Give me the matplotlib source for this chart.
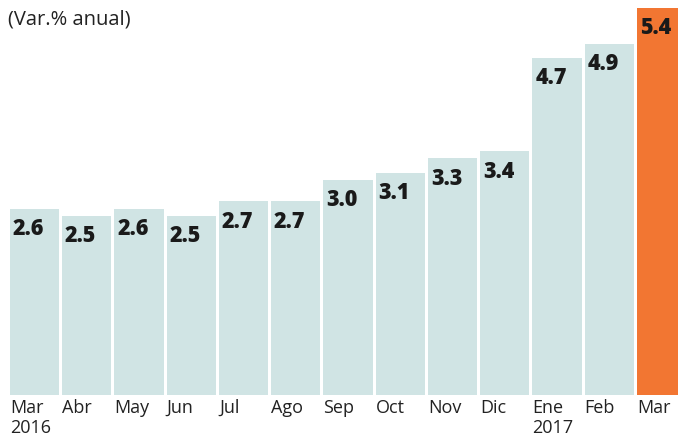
import numpy as np
import matplotlib.pyplot as plt

plt.rcParams['font.family'] = ['Open Sans', 'DejaVu Sans']

# datos
meses = ['Mar\n2016', 'Abr', 'May', 'Jun', 'Jul', 'Ago', 'Sep', 'Oct',
         'Nov', 'Dic', 'Ene\n2017', 'Feb', 'Mar']
valores = [2.6, 2.5, 2.6, 2.5, 2.7, 2.7, 3.0, 3.1, 3.3, 3.4, 4.7, 4.9, 5.4]
etiquetas = ['2.6', '2.5', '2.6', '2.5', '2.7', '2.7', '3.0', '3.1',
             '3.3', '3.4', '4.7', '4.9', '5.4']

colores = ['#d0e4e4'] * (len(valores) - 1) + ['#f27632']

fig = plt.figure(figsize=(6.78, 4.40), dpi=100)
ax = fig.add_axes([0, 1 - 395 / 440, 1, 395 / 440])

x = np.arange(len(valores))
ancho = 0.94
ax.bar(x, valores, width=ancho, color=colores, edgecolor='none')

for xi, v, t in zip(x, valores, etiquetas):
    ax.annotate(t, (xi - ancho / 2, v), xytext=(2, -6), textcoords='offset points',
                ha='left', va='top', fontsize=15.5, fontweight='heavy', color='#1a1a1a')
    lab = meses[int(xi)]
    ax.annotate(lab, (xi - ancho / 2, 0), xytext=(0, -3), textcoords='offset points',
                ha='left', va='top', fontsize=13, color='#222222',
                linespacing=1.1, annotation_clip=False)

ax.set_xlim(-0.661, 12.315)
ax.set_ylim(0, 395 / 71.7)
ax.axis('off')

fig.text(8 / 678, 1 - 19 / 440, '(Var.% anual)', ha='left', va='center',
         fontsize=14.5, color='#222222')

fig.savefig('out.png', dpi=100, facecolor='white')
